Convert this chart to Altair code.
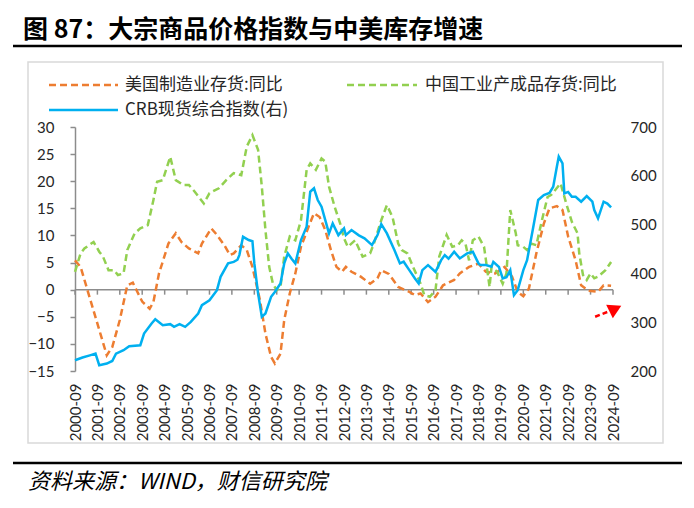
import altair as alt
import pandas as pd

# ---------------- text ----------------
title_text = "图 87：大宗商品价格指数与中美库存增速"
source_text = "资料来源：WIND，财信研究院"
series_names = ["美国制造业存货:同比", "中国工业产成品存货:同比", "CRB现货综合指数(右)"]
series_colors = ["#ED7D31", "#92D050", "#00B0F0"]

# ---------------- data ----------------
us_dates = ["2000-09", "2000-12", "2002-02", "2002-05", "2002-09", "2003-01", "2003-04", "2003-06",
            "2003-09", "2004-01", "2004-03", "2004-06", "2004-11", "2005-03", "2005-06", "2005-10",
            "2006-03", "2006-05", "2006-10", "2007-01", "2007-05", "2007-08", "2007-10", "2008-02",
            "2008-05", "2008-08", "2008-12", "2009-03", "2009-06", "2009-08", "2009-11", "2010-01",
            "2010-04", "2010-07", "2010-10", "2011-02", "2011-05", "2011-08", "2011-11", "2012-02",
            "2012-05", "2012-08", "2012-10", "2013-01", "2013-06", "2013-11", "2014-03", "2014-05",
            "2014-09", "2015-02", "2015-08", "2015-11", "2016-02", "2016-06", "2016-10", "2017-02",
            "2017-08", "2017-11", "2018-04", "2018-09", "2019-01", "2019-06", "2019-11", "2020-03",
            "2020-06", "2020-09", "2020-12", "2021-04", "2021-08", "2021-11", "2022-03", "2022-06",
            "2022-09", "2023-01", "2023-04", "2023-08", "2024-01", "2024-04", "2024-08"]
us_vals = [5.4, 4.2, -12.1, -10.6, -5.6, 0.8, 1.3, -0.1,
           -2.2, -3.5, -2.3, 3.0, 8.5, 10.4, 8.8, 7.6,
           6.7, 8.5, 11.3, 10.1, 8.2, 6.4, 6.7, 8.2,
           7.3, 4.2, -1.9, -8.1, -12.4, -13.6, -11.8, -5.6,
           -0.7, 3.0, 7.9, 11.6, 14.1, 13.4, 11.0, 7.3,
           4.2, 3.3, 4.2, 3.3, 2.4, 1.1, 2.1, 3.6,
           2.9, 0.5, -0.4, -1.0, -0.7, -2.3, -1.3, 0.8,
           1.8, 3.0, 4.2, 4.8, 3.3, 3.0, 4.2, 2.4,
           -0.4, -1.2, 0.2, 6.7, 12.2, 15.0, 15.4, 14.7,
           9.8, 5.4, 0.8, -0.2, -0.4, 0.8, 0.7]

cn_dates = ["2000-09", "2000-12", "2001-02", "2001-07", "2001-10", "2001-12", "2002-03", "2002-06",
            "2002-08", "2002-11", "2003-01", "2003-05", "2003-08", "2003-12", "2004-03", "2004-05",
            "2004-08", "2004-12", "2005-03", "2005-07", "2005-10", "2006-01", "2006-04", "2006-06",
            "2006-09", "2007-02", "2007-06", "2007-10", "2008-02", "2008-05", "2008-08", "2008-11",
            "2009-01", "2009-03", "2009-05", "2009-07", "2009-09", "2009-11", "2010-01", "2010-04",
            "2010-07", "2010-10", "2011-01", "2011-03", "2011-06", "2011-09", "2011-11", "2012-01",
            "2012-04", "2012-07", "2012-09", "2012-11", "2013-03", "2013-07", "2013-11", "2014-01",
            "2014-05", "2014-08", "2014-11", "2015-02", "2015-04", "2015-07", "2015-10", "2016-02",
            "2016-04", "2016-07", "2016-10", "2016-12", "2017-04", "2017-07", "2017-10", "2017-12",
            "2018-02", "2018-04", "2018-06", "2018-09", "2018-12", "2019-01", "2019-03", "2019-04",
            "2019-07", "2019-10", "2019-12", "2020-02", "2020-05", "2020-06", "2020-09", "2020-11",
            "2021-01", "2021-04", "2021-07", "2021-10", "2021-12", "2022-05", "2022-08", "2022-11",
            "2023-02", "2023-03", "2023-05", "2023-07", "2023-09", "2023-11", "2024-01", "2024-05",
            "2024-08"]
cn_vals = [3.3, 6.7, 7.6, 8.8, 7.0, 6.1, 3.6, 3.6,
           2.7, 3.0, 7.3, 10.4, 11.3, 11.9, 16.5, 19.9,
           20.2, 24.5, 20.2, 19.3, 19.3, 18.1, 16.8, 15.9,
           17.8, 18.7, 20.2, 21.5, 21.1, 26.4, 28.5, 25.8,
           19.0, 11.0, 4.2, 1.1, -0.1, 0.5, 6.1, 9.8,
           9.1, 12.8, 22.1, 23.3, 22.1, 24.2, 23.6, 19.0,
           15.3, 12.2, 9.5, 7.9, 9.1, 6.1, 6.7, 8.5,
           12.8, 15.6, 13.4, 8.5, 7.3, 6.7, 4.2, 1.1,
           -1.0, -1.3, -0.1, 6.1, 10.1, 7.9, 8.2, 9.1,
           8.5, 5.4, 9.1, 9.8, 7.9, 5.4, 0.5, 4.2,
           3.3, 1.1, 3.0, 14.7, 10.4, 8.2, 7.9, 7.3,
           8.5, 8.2, 12.8, 17.1, 17.5, 19.6, 15.9, 12.5,
           10.4, 6.7, 2.7, 1.8, 3.0, 2.1, 2.4, 3.6,
           5.1]

crb_dates = ["2000-09", "2001-01", "2001-05", "2001-08", "2001-10", "2002-02", "2002-05", "2002-07",
             "2002-11", "2003-02", "2003-08", "2003-10", "2004-02", "2004-04", "2004-08", "2004-12",
             "2005-02", "2005-05", "2005-08", "2005-11", "2006-03", "2006-05", "2006-09", "2007-01",
             "2007-03", "2007-07", "2007-10", "2007-12", "2008-01", "2008-03", "2008-06", "2008-08",
             "2008-09", "2008-11", "2009-01", "2009-03", "2009-06", "2009-08", "2009-11", "2010-01",
             "2010-03", "2010-05", "2010-07", "2010-10", "2011-01", "2011-03", "2011-05", "2011-07",
             "2011-09", "2011-11", "2012-01", "2012-03", "2012-06", "2012-09", "2012-10", "2013-01",
             "2013-05", "2013-08", "2013-12", "2014-03", "2014-05", "2014-08", "2014-12", "2015-03",
             "2015-05", "2015-08", "2015-11", "2016-01", "2016-03", "2016-06", "2016-10", "2017-01",
             "2017-03", "2017-05", "2017-08", "2017-11", "2018-03", "2018-06", "2018-09", "2018-10",
             "2019-01", "2019-04", "2019-05", "2019-08", "2019-10", "2019-12", "2020-02", "2020-04",
             "2020-06", "2020-09", "2020-11", "2021-02", "2021-05", "2021-08", "2021-11", "2022-01",
             "2022-03", "2022-04", "2022-06", "2022-07", "2022-09", "2022-11", "2023-01", "2023-04",
             "2023-07", "2023-10", "2023-11", "2024-01", "2024-04", "2024-06", "2024-08"]
crb_vals = [222, 227.6, 232, 235.6, 211.8, 215.2, 220.6, 235.6,
            242.6, 250.8, 252.8, 276.8, 297.3, 306, 293.9, 296,
            290.4, 296, 290.4, 300.6, 317.9, 334.9, 345, 365.6,
            393, 420.5, 423.7, 428, 437.5, 475, 468.3, 466,
            420.5, 359, 311, 317.9, 352, 362, 379.4, 420.5,
            441, 430, 420.5, 468.3, 495.6, 567.4, 574.4, 550.4,
            536.6, 509.3, 482, 502.5, 478.5, 492.3, 478.5, 488.8,
            478, 471.8, 458, 478.5, 501, 482, 447.8, 420.5,
            424, 406.7, 389.7, 379.4, 406.7, 417, 403.2, 427.2,
            437.5, 430, 444.3, 430.7, 441, 444.3, 420.5, 417,
            417, 413.5, 423.7, 413, 389.7, 392, 406.7, 355.4,
            365.6, 406.7, 427.2, 488.8, 550.4, 560.6, 565, 577.6,
            618.7, 639.2, 625.7, 564, 567, 557.1, 557, 546.9,
            558.5, 546.9, 529.8, 512.8, 546.9, 543, 535.4]

tick_years = list(range(2000, 2025))
left_ticks = [-15, -10, -5, 0, 5, 10, 15, 20, 25, 30]
right_ticks = [200, 300, 400, 500, 600, 700]

# red annotation arrow (in data units of the left axis)
arrow_dates = ["2023-11-15"]
arrow_end_dates = ["2024-08-10"]
arrow_vals = [-5.0]
arrow_end_vals = [-3.8]
arrow_head_dates = ["2024-10-10"]
arrow_head_vals = [-3.5]


def frame(dates, vals):
    return pd.DataFrame({"date": pd.to_datetime(dates), "v": vals})


us_df = frame(us_dates, us_vals)
cn_df = frame(cn_dates, cn_vals)
crb_df = frame(crb_dates, crb_vals)
ticks_df = pd.DataFrame({
    "date": pd.to_datetime([f"{y}-09" for y in tick_years]),
    "v": [0.0] * len(tick_years),
    "v2": [-0.92] * len(tick_years),
})
zero_df = pd.DataFrame({"date": pd.to_datetime(["2000-09"]), "date2": pd.to_datetime(["2024-09"]), "v": [0.0]})
arrow_df = pd.DataFrame({"date": pd.to_datetime(arrow_dates), "date2": pd.to_datetime(arrow_end_dates),
                         "v": arrow_vals, "v2": arrow_end_vals})
head_df = pd.DataFrame({"date": pd.to_datetime(arrow_head_dates), "v": arrow_head_vals})
one = pd.DataFrame({"k": [0]})

AXIS_GRAY = "#8c8c8c"
LABEL = "#262626"
CJK = "Noto Sans CJK SC"

x_enc = alt.X(
    "date:T",
    scale=alt.Scale(domain=[alt.DateTime(year=2000, month=9, date=1),
                            alt.DateTime(year=2024, month=9, date=1)]),
    axis=alt.Axis(values=[alt.DateTime(year=y, month=9, date=1) for y in tick_years],
                  format="%Y-%m", labelAngle=270, title=None, domain=False, ticks=False,
                  grid=False, labelPadding=12, labelFlush=False, labelOverlap=False,
                  labelFont="Lato", labelFontSize=15, labelColor=LABEL),
)
y_left = alt.Y(
    "v:Q",
    scale=alt.Scale(domain=[-15, 30], nice=False, zero=False),
    axis=alt.Axis(values=left_ticks, title=None, grid=False, orient="left",
                  domain=True, domainColor=AXIS_GRAY, domainWidth=1.5,
                  ticks=True, tickColor=AXIS_GRAY, tickSize=5, tickWidth=1.5,
                  labelPadding=16, labelFont="Lato", labelFontSize=15, labelColor=LABEL),
)
y_right = alt.Y(
    "v:Q",
    scale=alt.Scale(domain=[200, 700], nice=False, zero=False),
    axis=alt.Axis(values=right_ticks, title=None, grid=False, orient="right",
                  domain=False, ticks=False, labelPadding=17,
                  labelFont="Lato", labelFontSize=15, labelColor=LABEL),
)

zero_line = alt.Chart(zero_df).mark_rule(color=AXIS_GRAY, strokeWidth=1.5).encode(
    x=x_enc, x2="date2:T", y=y_left)
tick_marks = alt.Chart(ticks_df).mark_rule(color=AXIS_GRAY, strokeWidth=1.5).encode(
    x=x_enc, y=y_left, y2="v2:Q")
us_line = alt.Chart(us_df).mark_line(color=series_colors[0], strokeWidth=2.5, strokeDash=[7, 4]).encode(
    x=x_enc, y=y_left)
cn_line = alt.Chart(cn_df).mark_line(color=series_colors[1], strokeWidth=2.5, strokeDash=[7, 4]).encode(
    x=x_enc, y=y_left)
arrow_line = alt.Chart(arrow_df).mark_rule(color="#FF0000", strokeWidth=2.5, strokeDash=[5, 3]).encode(
    x=x_enc, x2="date2:T", y=y_left, y2="v2:Q")
arrow_head = alt.Chart(head_df).mark_point(shape="triangle-right", filled=True, size=230, angle=334,
                                           color="#FF0000", opacity=1).encode(x=x_enc, y=y_left)

left = alt.layer(zero_line, tick_marks, us_line, cn_line, arrow_line, arrow_head)

crb_line = alt.Chart(crb_df).mark_line(color=series_colors[2], strokeWidth=2.5).encode(
    x=x_enc, y=y_right)

# ---------------- decorations (positions in pixels relative to the plot area) ----------------
title_mark = alt.Chart(one).mark_text(text=title_text, font=CJK, fontSize=25, fontWeight="bold",
                                      align="left", baseline="middle", color="#000000").encode(
    x=alt.value(-52), y=alt.value(-97))
title_rule = alt.Chart(one).mark_rule(color="#000000", strokeWidth=2.5).encode(
    x=alt.value(-62), x2=alt.value(607), y=alt.value(-81))
frame_rect = alt.Chart(one).mark_rect(fillOpacity=0, stroke="#d9d9d9", strokeWidth=1.5).encode(
    x=alt.value(-47), x2=alt.value(588), y=alt.value(-65), y2=alt.value(316))
source_rule = alt.Chart(one).mark_rule(color="#000000", strokeWidth=2.5).encode(
    x=alt.value(-62), x2=alt.value(607), y=alt.value(336))
source_mark = alt.Chart(one).mark_text(text=source_text, font=CJK, fontSize=22, fontStyle="italic",
                                       align="left", baseline="middle", color="#000000").encode(
    x=alt.value(-47), y=alt.value(355))

leg_us_line = alt.Chart(one).mark_rule(color=series_colors[0], strokeWidth=2.5, strokeDash=[7, 4]).encode(
    x=alt.value(-26), x2=alt.value(43), y=alt.value(-42))
leg_us_text = alt.Chart(one).mark_text(text=series_names[0], font=CJK, fontSize=17, align="left",
                                       baseline="middle", color=LABEL).encode(
    x=alt.value(50), y=alt.value(-42))
leg_cn_line = alt.Chart(one).mark_rule(color=series_colors[1], strokeWidth=2.5, strokeDash=[7, 4]).encode(
    x=alt.value(272), x2=alt.value(342), y=alt.value(-42))
leg_cn_text = alt.Chart(one).mark_text(text=series_names[1], font=CJK, fontSize=17, align="left",
                                       baseline="middle", color=LABEL).encode(
    x=alt.value(350), y=alt.value(-42))
leg_crb_line = alt.Chart(one).mark_rule(color=series_colors[2], strokeWidth=2.5).encode(
    x=alt.value(-26), x2=alt.value(43), y=alt.value(-17))
leg_crb_text = alt.Chart(one).mark_text(text=series_names[2], font=CJK, fontSize=17, align="left",
                                        baseline="middle", color=LABEL).encode(
    x=alt.value(50), y=alt.value(-17))

chart = alt.layer(
    left, crb_line,
    frame_rect, title_mark, title_rule, source_rule, source_mark,
    leg_us_line, leg_us_text, leg_cn_line, leg_cn_text, leg_crb_line, leg_crb_text,
).resolve_scale(y="independent").properties(
    width=538, height=244,
    autosize=alt.AutoSizeParams(type="none"),
    padding={"left": 67, "top": 119, "right": 73, "bottom": 124},
).configure_view(stroke=None)

chart.save("out.html", embed_options={"renderer": "svg", "actions": False})
